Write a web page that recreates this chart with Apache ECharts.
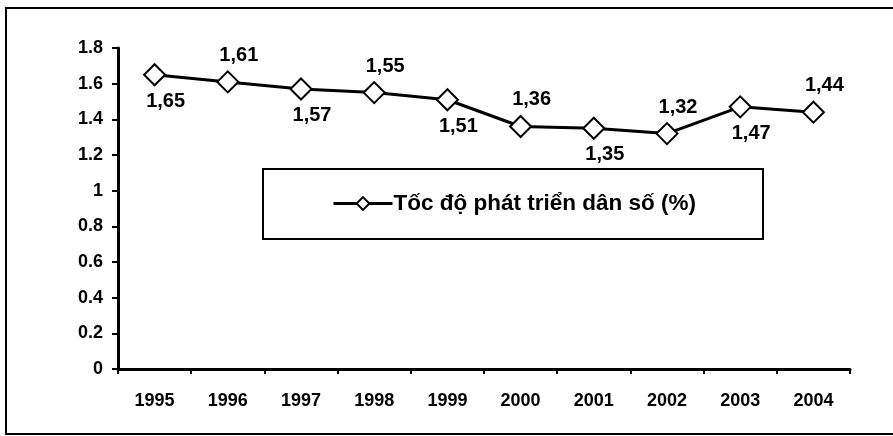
<!DOCTYPE html>
<html>
<head>
<meta charset="utf-8">
<script src="https://cdn.jsdelivr.net/npm/echarts@6/dist/echarts.min.js"></script>
<style>
  html, body { margin: 0; padding: 0; background: #fff; }
  #chart { width: 893px; height: 436px; }
</style>
</head>
<body>
<div id="chart"></div>
<script>
// dữ liệu
const years = ['1995', '1996', '1997', '1998', '1999', '2000', '2001', '2002', '2003', '2004'];
const growthRate = [1.65, 1.61, 1.57, 1.55, 1.51, 1.36, 1.35, 1.32, 1.47, 1.44];
const seriesName = 'Tốc độ phát triển dân số (%)';
const yTicks = { min: 0, max: 1.8, interval: 0.2 };

const FONT = '"Liberation Sans", Arial, sans-serif';

const chart = echarts.init(document.getElementById('chart'));

// nhãn xen kẽ: dưới / trên
const points = growthRate.map((v, i) => ({
    value: v,
    label: { position: i % 2 === 0 ? 'bottom' : 'top' }
}));

const option = {
    backgroundColor: '#fff',
    animation: false,
    textStyle: { fontFamily: FONT, color: '#000' },
    graphic: [
        // khung ngoài (cạnh phải nằm ngoài ảnh)
        {
            type: 'rect',
            shape: { x: 6, y: 8, width: 900, height: 426 },
            style: { fill: 'none', stroke: '#000', lineWidth: 2 },
            z: -1
        },
        // khung chú giải
        {
            type: 'rect',
            shape: { x: 263, y: 169, width: 500, height: 70 },
            style: { fill: '#fff', stroke: '#000', lineWidth: 2 },
            z: 0
        }
    ],
    grid: { left: 118, right: 43, top: 48, bottom: 67 },
    legend: {
        data: [seriesName],
        left: 332,
        top: 192,
        padding: 0,
        itemWidth: 59,
        itemHeight: 16,
        itemGap: 0,
        lineStyle: { width: 3 },
        textStyle: { fontFamily: FONT, fontSize: 22.5, fontWeight: 'bold', color: '#000', padding: [0, 0, 0, -4] },
        z: 5
    },
    xAxis: {
        type: 'category',
        data: years,
        boundaryGap: true,
        axisLine: { lineStyle: { color: '#000', width: 3 } },
        axisTick: { show: true, length: 5, lineStyle: { color: '#000', width: 2 } },
        axisLabel: { fontFamily: FONT, fontSize: 18, fontWeight: 'bold', color: '#000', margin: 23 },
        splitLine: { show: false }
    },
    yAxis: {
        type: 'value',
        min: yTicks.min,
        max: yTicks.max,
        interval: yTicks.interval,
        axisLine: { show: true, lineStyle: { color: '#000', width: 3 } },
        axisTick: { show: true, length: 6, lineStyle: { color: '#000', width: 2 } },
        axisLabel: {
            fontFamily: FONT, fontSize: 18, fontWeight: 'bold', color: '#000', margin: 15,
            formatter: v => String(Math.round(v * 10) / 10)
        },
        splitLine: { show: false }
    },
    series: [
        {
            name: seriesName,
            type: 'line',
            data: points,
            symbol: 'diamond',
            symbolSize: 21,
            lineStyle: { color: '#000', width: 3 },
            itemStyle: { color: '#fff', borderColor: '#000', borderWidth: 2 },
            label: {
                show: true,
                distance: 5,
                offset: [11, 0],
                fontFamily: FONT,
                fontSize: 20,
                fontWeight: 'bold',
                color: '#000',
                formatter: p => p.value.toFixed(2).replace('.', ',')
            },
            emphasis: { disabled: true }
        }
    ]
};

chart.setOption(option);
</script>
</body>
</html>
